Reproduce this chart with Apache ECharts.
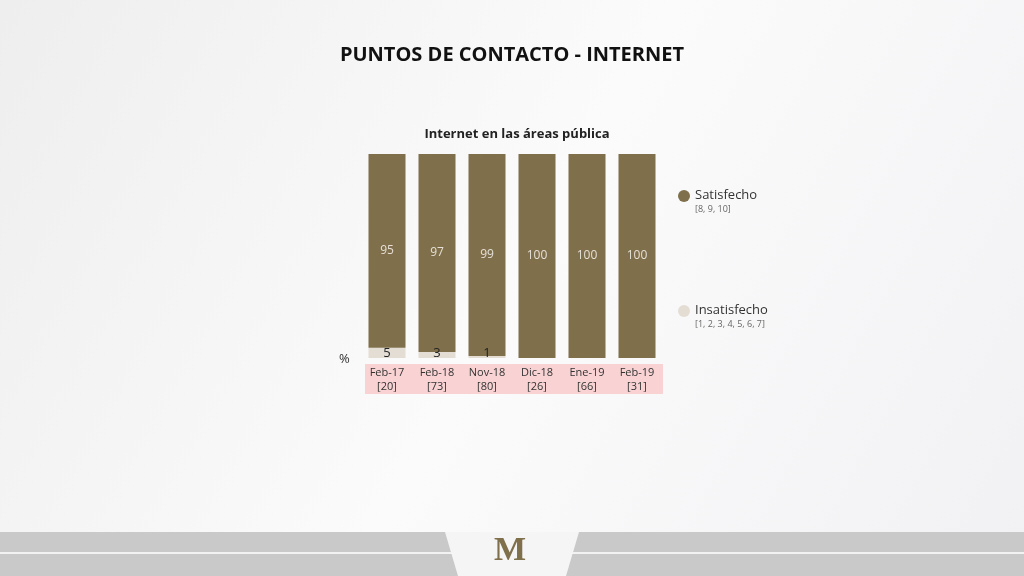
<!doctype html>
<html>
<head>
<meta charset="UTF-8">
<script src="https://cdn.jsdelivr.net/npm/echarts@6/dist/echarts.min.js"></script>
<style>
  body { margin: 0; }
  #chart { width: 1024px; height: 576px; }
</style>
</head>
<body>
<div id="chart"></div>
<script>
    var categories = ['Feb-17\n[20]', 'Feb-18\n[73]', 'Nov-18\n[80]', 'Dic-18\n[26]', 'Ene-19\n[66]', 'Feb-19\n[31]'];
    var insatisfecho = [5, 3, 1, 0, 0, 0];
    var satisfecho = [95, 97, 99, 100, 100, 100];

    var font = 'Century Gothic, "Open Sans", sans-serif';
    var myChart = echarts.init(document.getElementById('chart'));

    var options = {
        backgroundColor: new echarts.graphic.LinearGradient(0, 0, 1, 1, [
            { offset: 0, color: '#eeeeef' },
            { offset: 0.5, color: '#fbfbfc' },
            { offset: 1, color: '#f1f1f3' }
        ]),
        title: [{
            text: 'PUNTOS DE CONTACTO - INTERNET',
            left: 'center', top: 40,
            textStyle: { fontFamily: font, fontSize: 20, fontWeight: 'bold', color: '#111' }
        }, {
            text: 'Internet en las áreas pública',
            left: 512, top: 123, textAlign: 'center',
            textStyle: { fontFamily: font, fontSize: 13, fontWeight: 'bold', color: '#222' }
        }],
        graphic: [
            { type: 'rect', z: -1, shape: { x: 365, y: 364, width: 298, height: 30 }, style: { fill: '#f9d2d3' } },
            { type: 'text', left: 339, top: 353, style: { text: '%', font: '13px ' + font, fill: '#333' } },
            { type: 'circle', shape: { cx: 684, cy: 196, r: 6 }, style: { fill: '#7f6f4b' } },
            { type: 'text', left: 695, top: 189, style: { text: 'Satisfecho', font: '13px ' + font, fill: '#333' } },
            { type: 'text', left: 695, top: 205, style: { text: '[8, 9, 10]', font: '9px ' + font, fill: '#666' } },
            { type: 'circle', shape: { cx: 684, cy: 311, r: 6 }, style: { fill: '#e4ddd3' } },
            { type: 'text', left: 695, top: 304, style: { text: 'Insatisfecho', font: '13px ' + font, fill: '#333' } },
            { type: 'text', left: 695, top: 320, style: { text: '[1, 2, 3, 4, 5, 6, 7]', font: '9px ' + font, fill: '#666' } },
            { type: 'rect', shape: { x: 0, y: 532, width: 1024, height: 44 }, style: { fill: '#c9c9c9' } },
            { type: 'rect', shape: { x: 0, y: 552, width: 1024, height: 2 }, style: { fill: '#f2f2f2' } },
            { type: 'polygon', shape: { points: [[445, 532], [579, 532], [566, 576], [458, 576]] }, style: { fill: '#f5f5f5' } },
            { type: 'text', left: 494, top: 534, style: { text: 'M', font: 'bold 34px serif', fill: '#7f6f4b' } }
        ],
        grid: { left: 362, width: 300, top: 154, height: 204 },
        xAxis: {
            type: 'category',
            data: categories,
            axisLine: { show: false },
            axisTick: { show: false },
            axisLabel: { fontFamily: font, fontSize: 11, color: '#333', lineHeight: 14, margin: 8 }
        },
        yAxis: { type: 'value', min: 0, max: 100, show: false },
        series: [{
            name: 'Insatisfecho',
            type: 'bar',
            stack: 'a',
            barWidth: 37,
            data: insatisfecho,
            itemStyle: { color: '#e4ddd3' },
            label: {
                show: true, position: 'insideBottom', distance: -2,
                fontFamily: font, fontSize: 13, color: '#222',
                formatter: function (p) { return p.value ? p.value : ''; }
            }
        }, {
            name: 'Satisfecho',
            type: 'bar',
            stack: 'a',
            barWidth: 37,
            data: satisfecho,
            itemStyle: { color: '#7f6f4b' },
            label: {
                show: true, position: 'inside',
                fontFamily: font, fontSize: 12, color: '#e6e0d6'
            }
        }]
    };

    myChart.setOption(options);
</script>
</body>
</html>
